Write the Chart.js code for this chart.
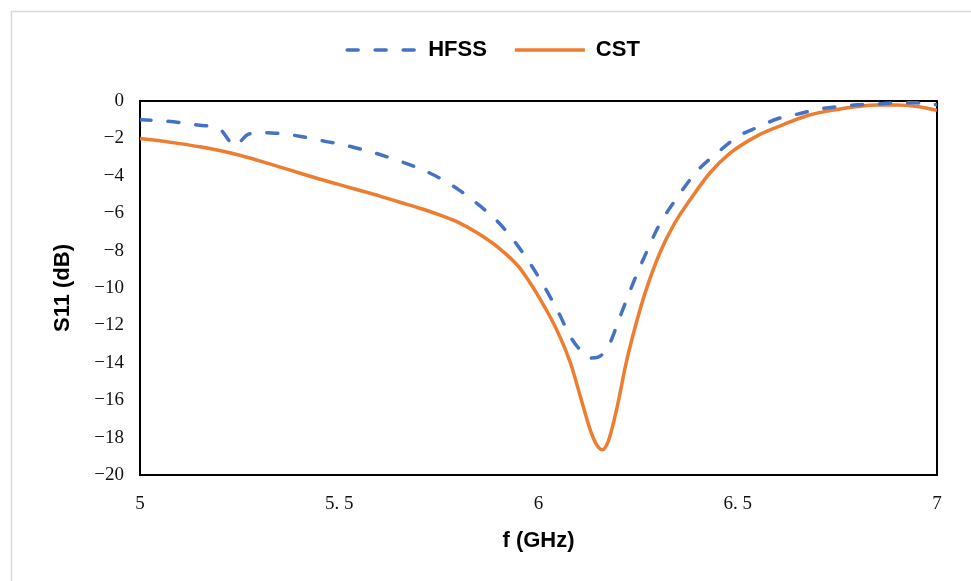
<!DOCTYPE html>
<html>
<head>
<meta charset="utf-8">
<script src="https://cdn.jsdelivr.net/npm/chart.js@4/dist/chart.umd.min.js"></script>
<style>
  html, body { margin: 0; padding: 0; background: #fff; }
  #wrap { width: 971px; height: 581px; position: relative; }
</style>
</head>
<body>
<div id="wrap"><canvas id="s11-chart" width="971" height="581"></canvas></div>
<script>
// frequencies (GHz) and S11 (dB)
const freqHFSS = [5.00, 5.05, 5.10, 5.15, 5.20, 5.225, 5.24, 5.255, 5.27, 5.30, 5.34, 5.40, 5.45, 5.50, 5.55, 5.60, 5.65, 5.70, 5.75, 5.80, 5.85, 5.90, 5.95, 6.00, 6.05, 6.08, 6.10, 6.13, 6.15, 6.18, 6.20, 6.225, 6.25, 6.275, 6.30, 6.35, 6.40, 6.45, 6.50, 6.55, 6.60, 6.65, 6.70, 6.75, 6.80, 6.85, 6.90, 6.95, 7.00];
const hfss = [-1.00, -1.05, -1.15, -1.30, -1.50, -2.15, -2.40, -2.10, -1.80, -1.70, -1.72, -1.88, -2.10, -2.30, -2.55, -2.85, -3.20, -3.60, -4.10, -4.75, -5.55, -6.50, -7.80, -9.40, -11.30, -12.60, -13.20, -13.75, -13.70, -12.90, -11.80, -10.40, -9.10, -7.90, -6.75, -5.10, -3.70, -2.75, -1.90, -1.40, -0.95, -0.70, -0.45, -0.30, -0.20, -0.15, -0.10, -0.10, -0.20];

const freqCST = [5.00, 5.05, 5.10, 5.15, 5.20, 5.25, 5.30, 5.35, 5.40, 5.45, 5.50, 5.55, 5.60, 5.65, 5.70, 5.75, 5.80, 5.85, 5.90, 5.95, 5.975, 6.00, 6.045, 6.08, 6.105, 6.13, 6.145, 6.16, 6.175, 6.197, 6.22, 6.245, 6.27, 6.305, 6.34, 6.38, 6.43, 6.48, 6.55, 6.61, 6.68, 6.75, 6.80, 6.85, 6.90, 6.95, 7.00];
const cst = [-2.00, -2.13, -2.28, -2.45, -2.65, -2.90, -3.20, -3.52, -3.85, -4.17, -4.47, -4.77, -5.07, -5.40, -5.72, -6.08, -6.50, -7.10, -7.85, -8.85, -9.60, -10.45, -12.20, -14.00, -15.80, -17.60, -18.35, -18.65, -18.20, -16.40, -14.00, -11.90, -10.10, -8.10, -6.60, -5.30, -3.85, -2.80, -1.85, -1.30, -0.75, -0.45, -0.30, -0.22, -0.22, -0.30, -0.50];

const xTickLabels = {5: '5', 5.5: '5. 5', 6: '6', 6.5: '6. 5', 7: '7'};

function toPoints(xs, ys) {
    return xs.map((x, i) => ({x: x, y: ys[i]}));
}

const framePlugin = {
    id: 'frames',
    beforeDraw(chart) {
        const ctx = chart.ctx;
        ctx.save();
        ctx.strokeStyle = '#d9d9d9';
        ctx.lineWidth = 1.5;
        ctx.strokeRect(11.5, 11.5, 2000, 2000);
        ctx.restore();
    },
    beforeDatasetsDraw(chart) {
        const a = chart.chartArea;
        const ctx = chart.ctx;
        ctx.save();
        ctx.strokeStyle = '#000';
        ctx.lineWidth = 2;
        ctx.strokeRect(a.left, a.top, a.right - a.left, a.bottom - a.top);
        ctx.restore();
    }
};

let ctx = document.getElementById('s11-chart');
let s11Chart = new Chart(ctx, {
    type: 'line',
    data: {
        datasets: [
            {
                label: 'HFSS',
                data: toPoints(freqHFSS, hfss),
                borderColor: '#4472C4',
                backgroundColor: '#4472C4',
                borderWidth: 3.5,
                borderDash: [11, 17],
                borderCapStyle: 'round',
                pointRadius: 0,
                cubicInterpolationMode: 'monotone',
                fill: false,
            },
            {
                label: 'CST',
                data: toPoints(freqCST, cst),
                borderColor: '#ED7D31',
                backgroundColor: '#ED7D31',
                borderWidth: 3.5,
                pointRadius: 0,
                cubicInterpolationMode: 'monotone',
                fill: false,
            }
        ]
    },
    options: {
        responsive: false,
        animation: false,
        layout: {
            padding: {top: 11, left: 50, right: 34, bottom: 0}
        },
        plugins: {
            legend: {
                display: true,
                labels: {
                    usePointStyle: true,
                    pointStyle: 'line',
                    pointStyleWidth: 70,
                    color: '#000',
                    padding: 28,
                    font: {family: 'Liberation Sans, Arial, sans-serif', size: 22, weight: 'bold'},
                    generateLabels: (chart) => {
                        const items = Chart.defaults.plugins.legend.labels.generateLabels(chart);
                        items.forEach((item) => {
                            const ds = chart.data.datasets[item.datasetIndex];
                            item.lineDash = ds.borderDash || [];
                            item.lineCap = ds.borderCapStyle || 'butt';
                            item.lineWidth = 3.5;
                        });
                        return items;
                    }
                }
            },
            tooltip: {enabled: false}
        },
        scales: {
            x: {
                type: 'linear',
                min: 5,
                max: 7,
                grid: {display: false, drawTicks: false},
                border: {display: false},
                ticks: {
                    stepSize: 0.5,
                    padding: 18,
                    color: '#111',
                    font: {family: 'Liberation Serif, serif', size: 19},
                    callback: (v) => xTickLabels[v] !== undefined ? xTickLabels[v] : ''
                },
                title: {
                    display: true,
                    text: 'f (GHz)',
                    color: '#000',
                    font: {family: 'Liberation Sans, Arial, sans-serif', size: 22, weight: 'bold'},
                    padding: {top: 4, bottom: 27}
                },
                afterFit: (scale) => { scale.height = 106; }
            },
            // spacer between the legend and the plot frame
            xTop: {
                type: 'linear',
                position: 'top',
                display: true,
                grid: {display: false, drawTicks: false},
                border: {display: false},
                ticks: {display: false},
                afterFit: (scale) => { scale.height = 30; }
            },
            y: {
                min: -20,
                max: 0,
                grid: {display: false, drawTicks: false},
                border: {display: false},
                ticks: {
                    stepSize: 2,
                    padding: 16,
                    color: '#111',
                    font: {family: 'Liberation Serif, serif', size: 19},
                    callback: (v) => String(v).replace('-', '\u2212')
                },
                title: {
                    display: true,
                    text: 'S11 (dB)',
                    color: '#000',
                    font: {family: 'Liberation Sans, Arial, sans-serif', size: 22, weight: 'bold'},
                    padding: {top: 0, bottom: 10}
                },
                afterFit: (scale) => { scale.width = 90; }
            }
        }
    },
    plugins: [framePlugin]
});
</script>
</body>
</html>
